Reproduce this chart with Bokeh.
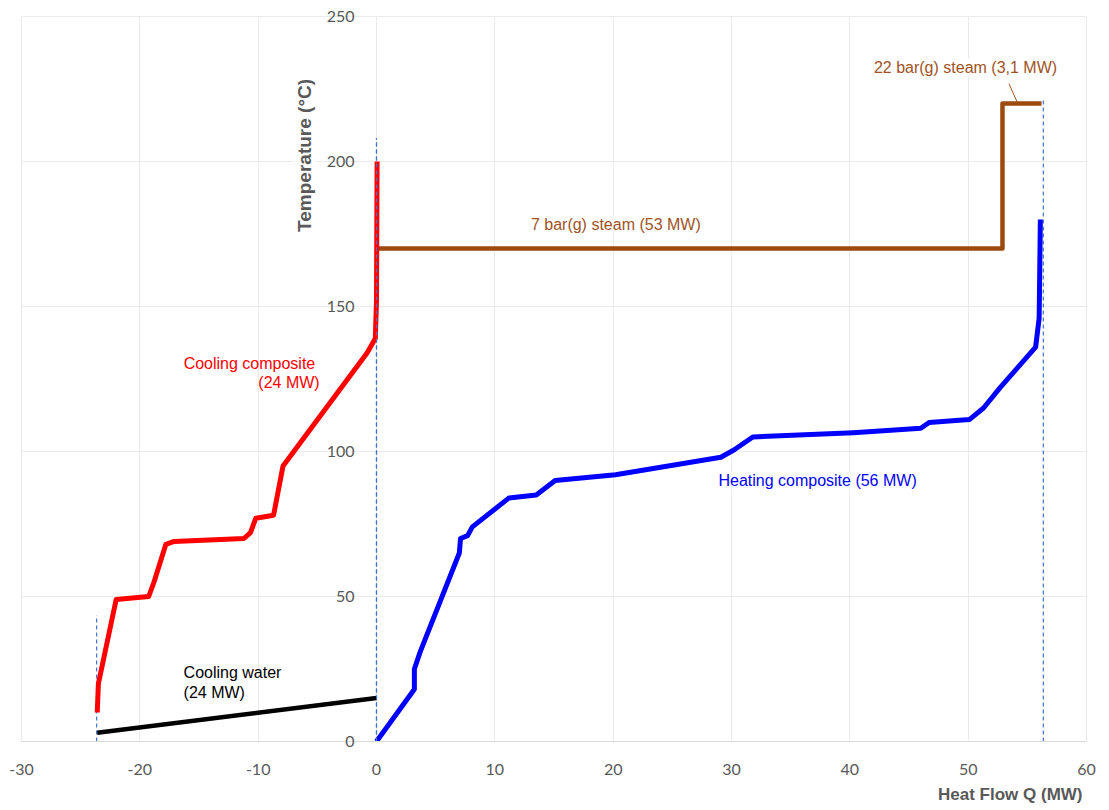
import math
from bokeh.plotting import figure
from bokeh.models import Label, Range1d, FixedTicker, Title
from bokeh.embed import file_html
from bokeh.resources import INLINE

# ---- data ----
x_ticks = [-30, -20, -10, 0, 10, 20, 30, 40, 50, 60]
y_ticks = [0, 50, 100, 150, 200, 250]

cool_q = [-23.6, -23.5, -22.0, -19.25, -18.8, -17.8, -17.1, -11.2, -10.65, -10.2, -8.7, -7.9, -0.8, -0.1, 0.0, 0.05]
cool_t = [10, 20, 49, 50, 55, 68, 69, 70, 72, 77, 78, 95, 134, 139, 152, 200]

heat_q = [0, 3.2, 3.2, 3.7, 7.0, 7.1, 7.7, 8.1, 11.2, 13.5, 15.1, 20.2, 29.1, 30.2, 31.8,
          40.3, 46.0, 46.7, 50.1, 51.3, 52.7, 55.7, 56.0, 56.1]
heat_t = [0, 18, 25, 31, 65, 70, 71, 74, 84, 85, 90, 92, 98, 100.5, 105,
          106.5, 108, 110, 111, 115, 122, 136, 146, 180]

cw_q = [-23.6, 0.0]
cw_t = [3, 15]

steam_q = [0.0, 52.9, 52.9, 56.2]
steam_t = [170, 170, 220, 220]

dash_q = [-23.65, 0.0, 56.35]
dash_top = [43.5, 208, 221]

leader_q = [53.45, 54.15]
leader_t = [226.8, 220.4]

GRAY = "#595959"
BROWN = "#9C4A0E"
BROWN_TXT = "#A0531E"

p = figure(width=1101, height=809, x_range=Range1d(-30, 60), y_range=Range1d(0, 250),
           toolbar_location=None, output_backend="svg",
           min_border_left=21, min_border_right=15, min_border_top=16, min_border_bottom=68)
p.outline_line_color = "#ebebeb"
p.background_fill_color = "white"

p.xaxis.ticker = FixedTicker(ticks=x_ticks)
p.xaxis.major_label_overrides = {t: str(t) for t in x_ticks}
p.xaxis.major_label_text_font = "Lato"
p.xaxis.major_label_text_font_size = "16px"
p.xaxis.major_label_text_color = GRAY
p.xaxis.major_tick_line_color = None
p.xaxis.minor_tick_line_color = None
p.xaxis.axis_line_color = "#d9d9d9"
p.xaxis.major_label_standoff = 16

# y axis: its labels are shifted right so that they sit just left of Q = 0
ya = p.yaxis[0]
ya.ticker = FixedTicker(ticks=y_ticks)
ya.major_label_text_font = "Lato"
ya.major_label_text_font_size = "16px"
ya.major_label_text_color = GRAY
ya.major_tick_line_color = None
ya.minor_tick_line_color = None
ya.axis_line_color = None
ya.major_label_standoff = -339
if "major_label_background_fill_color" in ya.properties():
    ya.major_label_background_fill_color = "white"

p.xgrid.ticker = FixedTicker(ticks=x_ticks)
p.ygrid.ticker = FixedTicker(ticks=y_ticks)
p.grid.grid_line_color = "#ebebeb"
p.grid.grid_line_width = 1

# x-axis title, right aligned under the axis
p.add_layout(Title(text="Heat Flow Q (MW)", align="right", offset=4,
                   text_font="Liberation Sans", text_font_style="bold",
                   text_font_size="17px", text_color=GRAY, standoff=11), "below")

# dashed guide lines
for q, top in zip(dash_q, dash_top):
    p.line([q, q], [0, top], line_color="#4472C4", line_width=1.2, line_dash="4 3")

# curves
p.line(cw_q, cw_t, line_color="black", line_width=4.5, line_join="round")
p.line(steam_q, steam_t, line_color=BROWN, line_width=4.5, line_join="round")
p.line(cool_q, cool_t, line_color="#FF0000", line_width=5, line_join="round")
p.line(heat_q, heat_t, line_color="#0000FF", line_width=5, line_join="round")
p.line(leader_q, leader_t, line_color=BROWN_TXT, line_width=1)

# redraw dashed on top of red at x=0
p.line([dash_q[1], dash_q[1]], [0, dash_top[1]], line_color="#4472C4", line_width=1.2, line_dash="4 3")

# y-axis title
p.add_layout(Label(x=-6.1, y=203, text="Temperature  (°C)", angle=math.pi / 2,
                   text_font="Liberation Sans", text_font_style="bold", text_font_size="19px",
                   text_color=GRAY, text_align="center", text_baseline="middle",
                   background_fill_color="white"))

def note(x, y, txt, color, align, bg=True):
    p.add_layout(Label(x=x, y=y, text=txt, text_font="Liberation Sans", text_font_size="16px",
                       text_color=color, text_align=align, text_baseline="middle",
                       background_fill_color="white" if bg else None))

note(-4.8, 130.3, "Cooling  composite", "#FF0000", "right", bg=False)
note(-4.8, 123.8, "(24 MW)", "#FF0000", "right", bg=False)
note(-16.3, 23.8, "Cooling  water", "black", "left", bg=False)
note(-16.3, 17.0, "(24 MW)", "black", "left", bg=False)
note(20.6, 178.3, "7 bar(g)  steam  (53 MW)", BROWN_TXT, "center")
note(50.15, 232.4, "22 bar(g)  steam  (3,1 MW)", BROWN_TXT, "center")
note(37.65, 90.0, "Heating  composite  (56 MW)", "#0000FF", "center")

open("out.html", "w").write(file_html(p, INLINE))
